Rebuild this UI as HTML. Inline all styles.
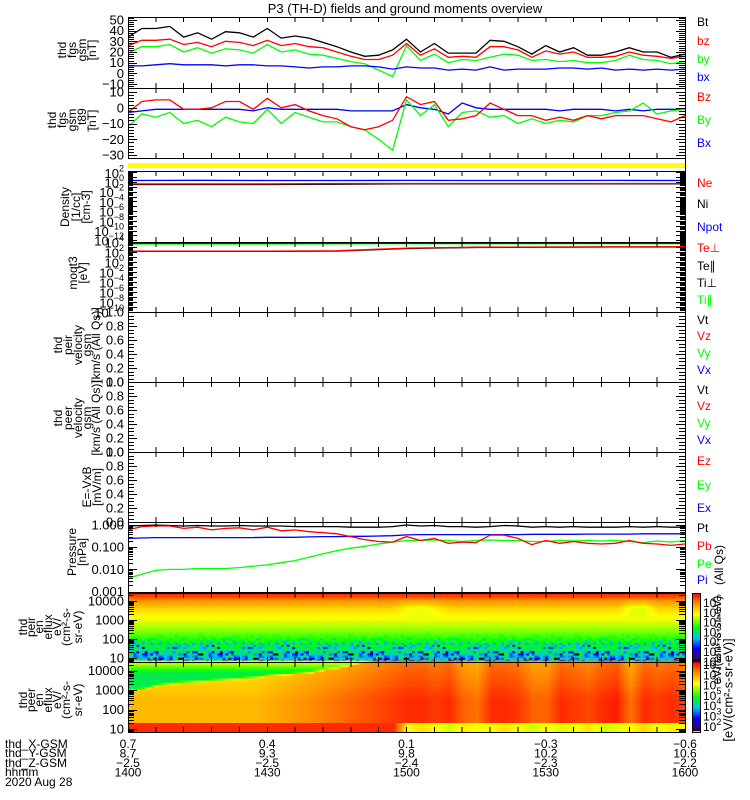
<!DOCTYPE html>
<html><head><meta charset="utf-8"><title>P3 (TH-D) fields and ground moments overview</title>
<style>
html,body{margin:0;padding:0;background:#fff;}
svg{display:block;font-family:"Liberation Sans",sans-serif;}
text{fill:#000;}
</style></head>
<body>
<svg id="chart" xmlns="http://www.w3.org/2000/svg" width="750" height="800" viewBox="0 0 750 800">
<defs>
<clipPath id="c1"><rect x="128" y="17" width="557" height="71"/></clipPath>
<clipPath id="c2"><rect x="128" y="88" width="557" height="70"/></clipPath>
<clipPath id="c4"><rect x="128" y="171" width="557" height="71"/></clipPath>
<clipPath id="c5"><rect x="128" y="242" width="557" height="70"/></clipPath>
<clipPath id="c9"><rect x="128" y="522" width="557" height="70"/></clipPath>
</defs>
<rect x="0" y="0" width="750" height="800" fill="#fff"/>
<text x="405" y="13" text-anchor="middle" font-size="13">P3 (TH-D) fields and ground moments overview</text>
<g id="spec"></g>
<g id="marks"></g>
<g id="axes"></g>
<rect x="128" y="163" width="557" height="5" fill="#ffff00"/>
<line x1="685.5" y1="158" x2="685.5" y2="171" stroke="#000"/>
<g font-size="12">
<text x="697" y="26">Bt</text>
<text x="697" y="45" style="fill:#ff0000">bz</text>
<text x="697" y="63" style="fill:#00ff00">by</text>
<text x="697" y="81" style="fill:#0000ff">bx</text>
<text x="697" y="101" style="fill:#ff0000">Bz</text>
<text x="697" y="124" style="fill:#00ff00">By</text>
<text x="697" y="147" style="fill:#0000ff">Bx</text>
<text x="697" y="187" style="fill:#ff0000">Ne</text>
<text x="697" y="208">Ni</text>
<text x="697" y="231" style="fill:#0000ff">Npot</text>
<text x="697" y="252" style="fill:#ff0000">Te⊥</text>
<text x="697" y="270">Te∥</text>
<text x="697" y="287">Ti⊥</text>
<text x="697" y="304" style="fill:#00ff00">Ti∥</text>
<text x="697" y="324">Vt</text>
<text x="697" y="340" style="fill:#ff0000">Vz</text>
<text x="697" y="357" style="fill:#00ff00">Vy</text>
<text x="697" y="374" style="fill:#0000ff">Vx</text>
<text x="697" y="394">Vt</text>
<text x="697" y="410" style="fill:#ff0000">Vz</text>
<text x="697" y="427" style="fill:#00ff00">Vy</text>
<text x="697" y="444" style="fill:#0000ff">Vx</text>
<text x="697" y="465" style="fill:#ff0000">Ez</text>
<text x="697" y="489" style="fill:#00ff00">Ey</text>
<text x="697" y="512" style="fill:#0000ff">Ex</text>
<text x="697" y="532">Pt</text>
<text x="697" y="550" style="fill:#ff0000">Pb</text>
<text x="697" y="568" style="fill:#00ff00">Pe</text>
<text x="697" y="584" style="fill:#0000ff">Pi</text>
</g>
<g font-size="12">
<text transform="translate(719,565) rotate(-90)" text-anchor="middle" dominant-baseline="central">(All Qs)</text>
<text transform="translate(717,640) rotate(-90)" text-anchor="middle" dominant-baseline="central">eV/(cm²-s-sr-eV)</text>
<text transform="translate(728,690) rotate(-90)" text-anchor="middle" dominant-baseline="central" font-size="13">[eV/(cm²-s-sr-eV)]</text>
</g>
<g font-size="12">
<text x="5" y="748">thd_X-GSM</text>
<text x="5" y="757">thd_Y-GSM</text>
<text x="5" y="767">thd_Z-GSM</text>
<text x="5" y="776">hhmm</text>
<text x="5" y="786">2020 Aug 28</text>
</g>
</svg>
<script>
// ---------- data ----------
const times=[0,5,10,15,20,25,30,35,40,45,50,55,60,65,70,75,80,85,90,95,100,105,110,115,120,125,130,135,140,145,150,155,160,165,170,175,180,185,190,195,200];
const bt=[34,42,42,44,34,38,32,39,38,34,42,33,35,33,29,25,20,16,17,22,32,20,28,19,19,19,31,30,25,18,26,20,24,17,17,20,24,20,20,15,18];
const bz=[26,31,31,32,27,29,25,30,29,26,31,26,28,25,24,20,16,13,13,17,28,17,23,15,16,15,25,25,22,15,21,18,20,15,15,16,20,17,16,14,16];
const by=[19,25,25,27,20,24,19,23,22,19,27,20,22,18,17,14,11,9,3,-3,26,12,18,10,13,12,15,18,17,12,13,11,12,10,10,12,17,13,12,9,11];
const bx=[7,7,8,9,8,8,8,7,8,8,7,7,6,5,6,6,7,7,6,4,6,5,5,3,4,3,6,3,4,4,4,5,5,4,5,3,4,3,4,3,4];
const dBz=[-3,4,5,5,-1,-1,0,4,4,-1,6,0,2,-2,-5,-7,-12,-14,-12,-8,7,2,4,-8,-7,-5,3,-1,-5,-5,-8,-6,-8,-5,-7,-5,-5,-5,-7,-9,-5];
const dBy=[-12,-4,-6,-3,-10,-8,-12,-6,-9,-10,-1,-10,-3,-6,-9,-9,-12,-14,-20,-27,5,-5,2,-12,-3,-2,-6,-5,-10,-7,-10,-8,-9,-5,-5,-3,-2,3,-4,-2,-1];
const dBx=[-3,-2,-1,-1,-1,-1,-1,-1,-1,-2,0,-1,-1,-1,-1,-1,-2,-2,-2,-2,2,0,-1,-4,3,0,-1,-1,-1,-1,-1,-2,-1,-1,-1,-2,-1,-2,-1,-1,-1];
const sTimes=[0,25,50,75,100,125,150,175,200];
const ne=[0.4,0.4,0.4,0.5,0.5,0.5,0.5,0.5,0.5];
const ni=[0.3,0.3,0.3,0.35,0.4,0.4,0.4,0.4,0.4];
const npot=[2,2.2,2,2,2.1,2,2,2.1,2];
const tePerp=[150,150,150,170,600,900,1000,1100,1200];
const tePar=[140,140,140,150,500,800,900,1000,1000];
const tiPerp=[6000,6000,6000,6000,6000,6000,6000,6000,6000];
const tiPar=[4000,4000,4000,4200,4500,4500,4500,4500,4500];
const pt=[0.9,0.95,1.0,0.95,0.9,0.95,0.9,0.9,0.95,0.9,0.9,0.9,0.85,0.85,0.85,0.85,0.8,0.8,0.8,0.85,1.0,0.9,0.95,0.85,0.85,0.8,0.85,0.95,0.9,0.8,0.85,0.8,0.85,0.8,0.8,0.8,0.85,0.8,0.85,0.8,0.8];
const pb=[0.6,0.85,0.9,0.9,0.7,0.8,0.6,0.7,0.75,0.6,0.8,0.55,0.6,0.5,0.45,0.4,0.3,0.22,0.18,0.17,0.3,0.2,0.25,0.15,0.17,0.16,0.35,0.35,0.25,0.13,0.2,0.15,0.18,0.15,0.14,0.15,0.2,0.15,0.14,0.12,0.14];
const pi=[0.25,0.26,0.27,0.27,0.27,0.27,0.27,0.27,0.27,0.27,0.28,0.28,0.28,0.29,0.3,0.3,0.31,0.31,0.32,0.33,0.36,0.37,0.37,0.37,0.37,0.37,0.37,0.37,0.37,0.38,0.38,0.38,0.38,0.39,0.39,0.39,0.39,0.4,0.4,0.4,0.4];
const pe=[0.004,0.006,0.009,0.01,0.01,0.011,0.011,0.011,0.012,0.014,0.016,0.02,0.025,0.035,0.05,0.07,0.09,0.11,0.14,0.17,0.2,0.2,0.21,0.2,0.18,0.2,0.21,0.2,0.2,0.18,0.18,0.2,0.19,0.2,0.19,0.2,0.18,0.16,0.19,0.17,0.2];
// ion spectrogram: log-flux profile at log-energy knots, plus time modulation
const ionLogE=[0.7,1,1.5,2,2.5,3,3.5,4,4.2,4.5];
const ionLogF=[2.8,3.0,3.4,3.8,4.3,4.8,5.2,5.9,6.4,6.9];
const ionMod=[0,0,0,0,0,0,0,0,0,0,0,0,0,0,0,0,0,0,0,0,0.4,0.5,0.3,0,0,0,0,0,0,0,0,0,0,0,0,0,0.5,0.6,0,0,0];
const ionNoise=[0,1.2,0.3,2.2,0.8,0,3.2,0.5,0.4,1.6,0,0.7,0.2,2.6,1,0,0.5,1.8,0.2,0.9,0,1.4,0.3,0,2.0,0.6,0.1];
// electron spectrogram
const eCut=[3.0,3.05,3.25,3.35,3.4,3.45,3.5,3.55,3.6,3.65,3.75,3.8,3.85,3.9,4.05,4.15,4.3,4.45,4.6,4.6,4.6,4.6,4.6,4.6,4.6,4.6,4.6,4.6,4.6,4.6,4.6,4.6,4.6,4.6,4.6,4.6,4.6,4.6,4.6,4.6,4.6];
const eHot=[6.9,6.9,6.9,6.9,6.9,6.9,6.9,6.9,6.9,6.9,7.0,7.1,7.2,7.3,7.4,7.5,7.6,7.7,7.8,7.9,8.0,8.0,7.9,8.0,7.6,7.5,8.0,8.0,7.9,7.6,7.6,8.0,7.9,7.8,8.0,8.1,7.5,8.0,7.9,8.0,7.8];
const eLow=[8,8,8,8,8,8,8,8,8,8,8,8,8,8,8,8,8,8,8,8,6.3,6.5,6.3,6.0,6.4,6.2,6.3,6.5,6.2,6.0,6.3,6.1,6.2,6.5,6.0,6.1,6.3,6.6,6.2,6.4,6.3];
const cmapPos=[0,0.08,0.2,0.35,0.5,0.7,0.85,1];
const cmapCol=[[0,0,0],[64,0,128],[0,0,255],[0,192,255],[0,255,0],[255,255,0],[255,144,0],[255,0,0]];
const bottomX=['0.7','0.4','0.1','-0.3','-0.6'];
const bottomY=['8.7','9.3','9.8','10.2','10.6'];
const bottomZ=['-2.5','-2.5','-2.4','-2.3','-2.2'];
const bottomT=['1400','1430','1500','1530','1600'];
const bottomTm=[0,50,100,150,200];

// ---------- helpers ----------
const NS='http://www.w3.org/2000/svg';
const G=function(id){return document.getElementById(id);};
function mk(tag,attrs,parent){const e=document.createElementNS(NS,tag);for(const k in attrs)e.setAttribute(k,attrs[k]);parent.appendChild(e);return e;}
const X0=128,X1=685;
function xS(t){return X0+t*(X1-X0)/200;}
function y1(v){return 20+(50-v)*64/60;}
function y2(v){return 92+(10-v)*63/40;}
function yD(v){return 182-Math.log10(v)*4.85;}
function yT(v){return 262-Math.log10(v)*5;}
function yP(v){return 525-Math.log10(v)*22.2;}
function yIon(le){return 658-(le-1)*19;}
function yEl(le){return 729-(le-1)*19.5;}
function lerpArr(kx,ky,x){if(x<=kx[0])return ky[0];for(let i=1;i<kx.length;i++){if(x<=kx[i]){const f=(x-kx[i-1])/(kx[i]-kx[i-1]);return ky[i-1]+f*(ky[i]-ky[i-1]);}}return ky[ky.length-1];}
function cmap(f){f=Math.max(0,Math.min(1,f));for(let i=1;i<cmapPos.length;i++){if(f<=cmapPos[i]){const u=(f-cmapPos[i-1])/(cmapPos[i]-cmapPos[i-1]);const a=cmapCol[i-1],b=cmapCol[i];return 'rgb('+Math.round(a[0]+u*(b[0]-a[0]))+','+Math.round(a[1]+u*(b[1]-a[1]))+','+Math.round(a[2]+u*(b[2]-a[2]))+')';}}return 'rgb(255,0,0)';}

const marks=G('marks'),axes=G('axes'),spec=G('spec');
function series(tArr,vals,yf,color,clip,name){
  const d=tArr.map(function(t,i){return (i?'L':'M')+xS(t).toFixed(1)+','+yf(vals[i]).toFixed(1);}).join('');
  const p=mk('path',{d:d,fill:'none',stroke:color,'stroke-width':1.3,'clip-path':'url(#'+clip+')'},marks);
  
  
}
function tick(x1,y1_,x2,y2_){
  const l=mk('line',{x1:x1,y1:y1_,x2:x2,y2:y2_,stroke:'#000','stroke-width':1,'shape-rendering':'crispEdges'},axes);
  
  
}
function ylab(txt,y,exp){
  const t=mk('text',{x:124,y:y,'text-anchor':'end','dominant-baseline':'central','font-size':13},axes);
  
  
  t.textContent=txt;
  if(exp!==undefined){const s=mk('tspan',{dy:-5,'font-size':9},t);s.textContent=exp;}
}
function frame(top,bot,name){
  const r=mk('rect',{x:X0+0.5,y:top+0.5,width:X1-X0,height:bot-top,fill:'none',stroke:'#000','stroke-width':1,'shape-rendering':'crispEdges'},axes);
  
  
  for(let t=10;t<200;t+=10){tick(xS(t),top,xS(t),top+5);tick(xS(t),bot,xS(t),bot-5);}
}
function rlabel(lines,xs,cy,name){
  lines.forEach(function(s,i){
    const t=mk('text',{transform:'translate('+xs[i]+','+cy+') rotate(-90)','text-anchor':'middle','dominant-baseline':'central','font-size':12},axes);
    
    
    t.textContent=s;
  });
}
function linTicks(yf,lo,hi,minor,major,top,bot){
  for(let v=lo;v<=hi+1e-9;v+=minor){const y=Math.round(yf(v))+0.5;if(y<top||y>bot)continue;const isM=Math.abs(v/major-Math.round(v/major))<1e-6;const L=isM?9:6;tick(X0,y,X0+L,y);tick(X1,y,X1-L,y);}
}
function logTicks(yf,lo,hi,top,bot){
  for(let d=lo;d<=hi;d++){for(let k=1;k<10;k++){const y=Math.round(yf(k*Math.pow(10,d)))+0.5;if(y<top||y>bot)continue;const L=k===1?9:5;tick(X0,y,X0+L,y);tick(X1,y,X1-L,y);}}
}

// ---------- spectrograms ----------
function interpT(arr,m){const i=Math.min(39,Math.floor(m/5));const f=(m-i*5)/5;return arr[i]+f*(arr[i+1]-arr[i]);}
const NB=32;
for(let m=0;m<200;m++){
  const x=xS(m),w=xS(m+1)-x+0.3;
  const im=interpT(ionMod,m);
  for(let b=0;b<NB;b++){
    const leTop=4.42-b*(4.42-0.79)/NB, leBot=4.42-(b+1)*(4.42-0.79)/NB, le=(leTop+leBot)/2;
    let f=lerpArr(ionLogE,ionLogF,le);
    f-=im*Math.max(0,1-Math.abs(le-3.6)/0.6);
    if(le<2.3){const n=ionNoise[(m*m*3+b*5+m*b+m)%ionNoise.length];f-=n*Math.min(1,(2.3-le)/1.1);}
    const r=mk('rect',{x:x.toFixed(2),y:yIon(leTop).toFixed(2),width:w.toFixed(2),height:(yIon(leBot)-yIon(leTop)+0.3).toFixed(2),fill:cmap(f/7)},spec);
    
    
  }
  const cut=interpT(eCut,m),hot=interpT(eHot,m),low=interpT(eLow,m);
  for(let b=0;b<NB;b++){
    const leTop=4.51-b*(4.51-0.85)/NB, leBot=4.51-(b+1)*(4.51-0.85)/NB, le=(leTop+leBot)/2;
    let f;
    if(le<1.3){f=low;}
    else{
      const inner=hot-0.25*Math.max(0,le-2.5);
      const outer=4.6+Math.max(0,le-3.85)*2.5;
      const u=Math.max(0,Math.min(1,(le-cut)/0.15+0.5));
      f=inner*(1-u)+outer*u;
    }
    const r=mk('rect',{x:x.toFixed(2),y:yEl(leTop).toFixed(2),width:w.toFixed(2),height:(yEl(leBot)-yEl(leTop)+0.3).toFixed(2),fill:cmap((f-1.5)/6.8)},spec);
    
    
  }
}
// colorbars
for(let i=0;i<69;i++){
  const c1=mk('rect',{x:692,y:593+i,width:8,height:1.2,fill:cmap(1-i/69)},spec);
  
  
  const c2=mk('rect',{x:692,y:662+i,width:8,height:1.2,fill:cmap(1-i/70)},spec);
  
  
}
const cbf=mk('rect',{x:692.5,y:593.5,width:8,height:139,fill:'none',stroke:'#000'},axes);


function cblab(exp,y){
  const t=mk('text',{x:703,y:y,'dominant-baseline':'central','font-size':12},axes);
  
  
  t.textContent='10';
  const s=mk('tspan',{dy:-5,'font-size':9},t);s.textContent=exp;
}
[6,5,4,3,2,1,0].forEach(function(e){cblab(String(e),603+(6-e)*9.8);});
[8,7,6,5,4,3,2].forEach(function(e){cblab(String(e),665+(8-e)*10.3);});

// ---------- series ----------
series(times,bt,y1,'#000000','c1','line-bt');
series(times,bz,y1,'#ff0000','c1','line-bz');
series(times,by,y1,'#00ff00','c1','line-by');
series(times,bx,y1,'#0000ff','c1','line-bx');
series(times,dBx,y2,'#0000ff','c2','line-Bx-t89');
series(times,dBy,y2,'#00ff00','c2','line-By-t89');
series(times,dBz,y2,'#ff0000','c2','line-Bz-t89');
series(sTimes,ni,yD,'#000000','c4','line-ni');
series(sTimes,npot,yD,'#0000ff','c4','line-npot');
series(sTimes,ne,yD,'#ff0000','c4','line-ne');
series(sTimes,tiPar,yT,'#00ff00','c5','line-ti-par');
series(sTimes,tiPerp,yT,'#000000','c5','line-ti-perp');
series(sTimes,tePar,yT,'#000000','c5','line-te-par');
series(sTimes,tePerp,yT,'#ff0000','c5','line-te-perp');
series(times,pt,yP,'#000000','c9','line-pt');
series(times,pi,yP,'#0000ff','c9','line-pi');
series(times,pe,yP,'#00ff00','c9','line-pe');
series(times,pb,yP,'#ff0000','c9','line-pb');

// ---------- axes ----------
frame(17,88,'panel-fgs-gsm');
linTicks(y1,-12,52,2,10,17,88);
[50,40,30,20,10,0,-10].forEach(function(v){ylab(String(v).replace('-','−'),y1(v));});
rlabel(['thd','fgs','gsm','[nT]'],[62,72,82,92],50,'fgs-gsm-axis-title');

frame(88,158,'panel-fgs-t89');
linTicks(y2,-34,10,2,10,88,158);
[10,0,-10,-20,-30].forEach(function(v){ylab(String(v).replace('-','−'),y2(v));});
rlabel(['thd','fgs','gsm','_t89','[nT]'],[52,62,72,82,92],120,'fgs-t89-axis-title');

frame(171,242,'panel-density');
logTicks(yD,-13,2,171,242);
[2,0,-2,-4,-6,-8,-10,-12].forEach(function(e){ylab('10',yD(Math.pow(10,e))+1,String(e).replace('-','−'));});
rlabel(['Density','[1/cc]','[cm-3]'],[65,76,86],207,'density-axis-title');

frame(242,312,'panel-temperature');
logTicks(yT,-10,4,242,312);
[4,2,0,-2,-4,-6,-8,-10].forEach(function(e){ylab('10',yT(Math.pow(10,e))+1,String(e).replace('-','−'));});
rlabel(['moqt3','[eV]'],[73,83],273,'temperature-axis-title');

function vpanel(top,bot,name){
  frame(top,bot,name);
  const yf=function(v){return bot-v*(bot-top);};
  linTicks(yf,0,1,0.05,0.2,top,bot);
  [1,0.8,0.6,0.4,0.2,0].forEach(function(v){ylab(v.toFixed(1),yf(v));});
}
vpanel(312,382,'panel-peir-velocity');
rlabel(['thd','peir','velocity','gsm','[km/s (All Qs)]'],[58,68,78,87,96],345,'peir-velocity-axis-title');
vpanel(382,452,'panel-peer-velocity');
rlabel(['thd','peer','velocity','gsm','[km/s (All Qs)]'],[58,68,78,87,96],418,'peer-velocity-axis-title');
vpanel(452,522,'panel-efield');
rlabel(['E=-VxB','[mV/m]'],[87,97],487,'efield-axis-title');

frame(522,592,'panel-pressure');
logTicks(yP,-3,0,522,592);
[[1,'1.000'],[0.1,'0.100'],[0.01,'0.010'],[0.001,'0.001']].forEach(function(p){ylab(p[1],yP(p[0]));});
rlabel(['Pressure','[nPa]'],[72,82],552,'pressure-axis-title');

frame(593,662,'panel-ion-spectrogram');
for(let d=0;d<=4;d++){for(let k=1;k<10;k++){const y=Math.round(yIon(d+Math.log10(k)))+0.5;if(y<593||y>662)continue;const L=k===1?9:6;tick(X0,y,X0+L,y);tick(X1,y,X1-L,y);}}
[[4,'10000'],[3,'1000'],[2,'100'],[1,'10']].forEach(function(p){ylab(p[1],yIon(p[0]));});
rlabel(['thd','peir','en','eflux','eV/','(cm²-s-','sr-eV)'],[23,31,39,48,57,66,78],627,'ion-spectrogram-axis-title');

frame(662,732,'panel-electron-spectrogram');
for(let d=0;d<=4;d++){for(let k=1;k<10;k++){const y=Math.round(yEl(d+Math.log10(k)))+0.5;if(y<662||y>732)continue;const L=k===1?9:6;tick(X0,y,X0+L,y);tick(X1,y,X1-L,y);}}
[[4,'10000'],[3,'1000'],[2,'100'],[1,'10']].forEach(function(p){ylab(p[1],yEl(p[0]));});
rlabel(['thd','peer','en','eflux','eV/','(cm²-s-','sr-eV)'],[23,31,39,48,57,66,78],700,'electron-spectrogram-axis-title');

// bottom ephemeris values
[bottomX,bottomY,bottomZ,bottomT].forEach(function(arr,row){
  arr.forEach(function(s,i){
    const t=mk('text',{x:xS(bottomTm[i]),y:748+row*9.5,'text-anchor':'middle','font-size':12},axes);
    
    
    t.textContent=s.replace('-','−');
  });
});
</script>
</body></html>
